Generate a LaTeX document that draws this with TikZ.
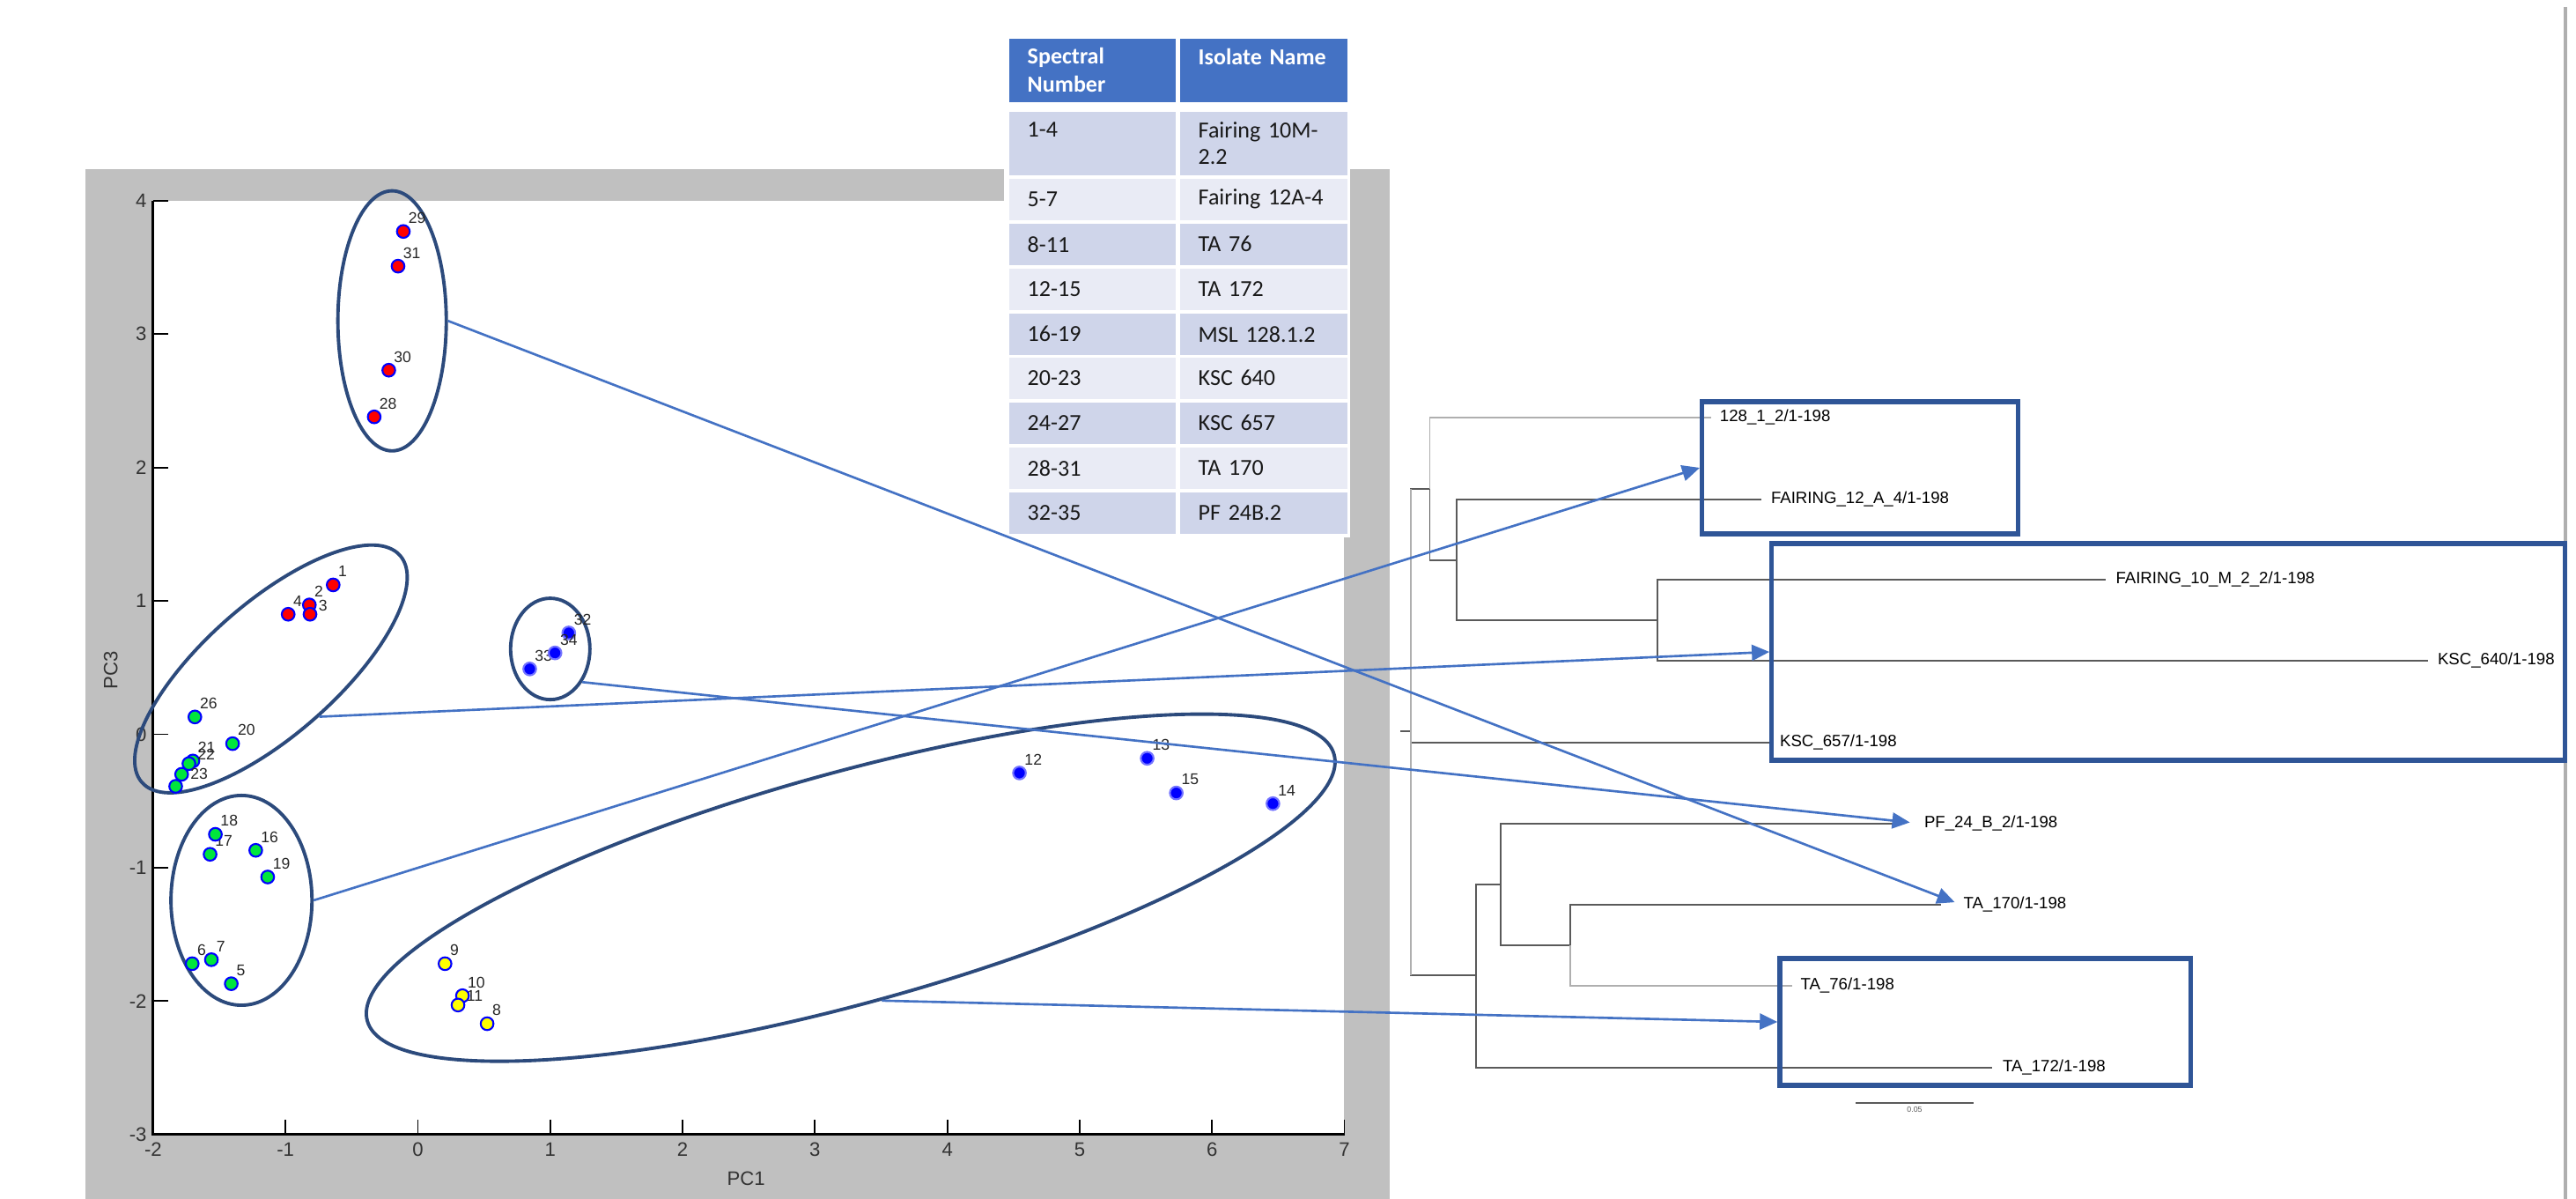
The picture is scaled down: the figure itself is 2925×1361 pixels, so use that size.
\documentclass[tikz,border=0pt]{standalone}
\usepackage{fontspec}
\setmainfont{Liberation Sans}
\newfontfamily\tabfont{Carlito}
\usetikzlibrary{positioning,shapes.geometric,arrows.meta}
\definecolor{framegray}{RGB}{192,192,192}
\definecolor{hdblue}{RGB}{68,114,196}
\definecolor{rowdark}{RGB}{207,213,234}
\definecolor{rowlight}{RGB}{233,235,245}
\definecolor{celltext}{RGB}{25,25,25}
\definecolor{grpblue}{RGB}{44,74,124}
\definecolor{boxblue}{RGB}{47,85,151}
\definecolor{connblue}{RGB}{68,114,196}
\definecolor{treedark}{RGB}{90,90,90}
\definecolor{treelight}{RGB}{175,175,175}
\definecolor{ptred}{RGB}{255,0,0}
\definecolor{ptgreen}{RGB}{0,230,60}
\definecolor{ptyellow}{RGB}{255,255,0}
\definecolor{ptblue}{RGB}{0,0,255}

\begin{document}
\begin{tikzpicture}[x=0.01cm, y=-0.01cm,
    ticklab/.style={font=\fontsize{6.3}{7}\selectfont, inner sep=0pt, text=black!80},
    grp/.style={ellipse, draw=grpblue, line width=1.1pt, inner sep=0pt},
    pt/.style={circle, draw=blue, line width=0.6pt, inner sep=0pt, minimum size=0.145cm},
    ptlab/.style={font=\fontsize{5}{5}\selectfont, inner sep=0.3pt, text=black!85},
    hdcell/.style={anchor=north west, fill=hdblue, text=white, font=\tabfont\bfseries\fontsize{7.4}{9}\selectfont, align=left, inner xsep=0.21cm, inner ysep=0pt, minimum height=0.72cm},
    rowcell/.style={anchor=north west, text=celltext, font=\tabfont\fontsize{7.4}{8.6}\selectfont, align=left, inner xsep=0.21cm, inner ysep=0pt, minimum height=0.47cm},
    leaf/.style={font=\fontsize{5.3}{6}\selectfont, inner sep=0.5pt},
    tree/.style={draw=treedark, line width=0.55pt},
    treelt/.style={draw=treelight, line width=0.55pt},
    grpbox/.style={draw=boxblue, line width=1.5pt, inner sep=0pt},
    conn/.style={draw=connblue, line width=0.75pt, -{Triangle[length=0.2cm, width=0.18cm]}}]
    \useasboundingbox (0,0) rectangle (2925,1361);
    \fill[white] (0,0) rectangle (2925,1361);

    % plot frame
    \fill[framegray] (97,192) rectangle (1578,1361);
    \fill[white] (174,228) rectangle (1526,1287);

    % isolate table
    \fill[white] (1140,38) rectangle (1533,610);
    \node[hdcell, text width=1.47cm] (hnum) at (1145,43) {Spectral\\Number};
    \node[hdcell, text width=1.48cm] (hname) at (1339,43) {Isolate Name\\~};
    \node[rowcell, fill=rowdark, text width=1.47cm, minimum height=0.72cm] (num1) at (1145,126) {1-4\\~};
    \node[rowcell, fill=rowdark, text width=1.48cm, minimum height=0.72cm] (iso1) at (1339,126) {Fairing 10M-\\2.2};
    \node[rowcell, fill=rowlight, text width=1.47cm] (num2) at (1145,202) {5-7};
    \node[rowcell, fill=rowlight, text width=1.48cm] (iso2) at (1339,202) {Fairing 12A-4};
    \node[rowcell, fill=rowdark, text width=1.47cm] (num3) at (1145,253) {8-11};
    \node[rowcell, fill=rowdark, text width=1.48cm] (iso3) at (1339,253) {TA 76};
    \node[rowcell, fill=rowlight, text width=1.47cm] (num4) at (1145,304) {12-15};
    \node[rowcell, fill=rowlight, text width=1.48cm] (iso4) at (1339,304) {TA 172};
    \node[rowcell, fill=rowdark, text width=1.47cm] (num5) at (1145,355) {16-19};
    \node[rowcell, fill=rowdark, text width=1.48cm] (iso5) at (1339,355) {MSL 128.1.2};
    \node[rowcell, fill=rowlight, text width=1.47cm] (num6) at (1145,405) {20-23};
    \node[rowcell, fill=rowlight, text width=1.48cm] (iso6) at (1339,405) {KSC 640};
    \node[rowcell, fill=rowdark, text width=1.47cm] (num7) at (1145,456) {24-27};
    \node[rowcell, fill=rowdark, text width=1.48cm] (iso7) at (1339,456) {KSC 657};
    \node[rowcell, fill=rowlight, text width=1.47cm] (num8) at (1145,507) {28-31};
    \node[rowcell, fill=rowlight, text width=1.48cm] (iso8) at (1339,507) {TA 170};
    \node[rowcell, fill=rowdark, text width=1.47cm] (num9) at (1145,558) {32-35};
    \node[rowcell, fill=rowdark, text width=1.48cm] (iso9) at (1339,558) {PF 24B.2};

    % PCA scores, in PC1/PC3 units
    \begin{scope}[shift={(474.5,833.5)}, x=1.502cm, y=1.513cm]
        \draw[line width=0.85pt] (-2,4) -- (-2,-3) -- (7,-3);
        \foreach \t in {-3,...,4} {
            \draw[line width=0.5pt] (-2,\t) -- (-1.887,\t);
            \node[ticklab, anchor=east] at (-2.045,\t) {\t};
        }
        \foreach \t in {-2,...,7} {
            \draw[line width=0.5pt] (\t,-3) -- (\t,-2.887);
            \node[ticklab, anchor=north] at (\t,-3.06) {\t};
        }
        \node[ticklab, rotate=90] (pc3) at (-2.32,0.48) {PC3};
        \node[ticklab] (pc1) at (2.48,-3.33) {PC1};

        \node[grp, minimum width=1.23cm, minimum height=2.95cm] (grpA) at (-0.195,3.10) {};
        \node[grp, minimum width=3.90cm, minimum height=1.50cm, rotate=41.3] (grpB) at (-1.11,0.49) {};
        \node[grp, minimum width=1.60cm, minimum height=2.38cm] (grpC) at (-1.333,-1.245) {};
        \node[grp, minimum width=0.90cm, minimum height=1.15cm] (grpD) at (1.0,0.64) {};
        \node[grp, minimum width=11.38cm, minimum height=2.62cm, rotate=15.4] (grpE) at (3.27,-1.15) {};

        \node[pt, fill=ptred, label={[ptlab]60:1}] (p1) at (-0.64,1.12) {};
        \node[pt, fill=ptred, label={[ptlab]60:2}] (p2) at (-0.82,0.97) {};
        \node[pt, fill=ptred, label={[ptlab]15:3}] (p3) at (-0.815,0.90) {};
        \node[pt, fill=ptred, label={[ptlab]60:4}] (p4) at (-0.98,0.90) {};
        \node[pt, fill=ptgreen, label={[ptlab]60:5}] (p5) at (-1.41,-1.87) {};
        \node[pt, fill=ptgreen, label={[ptlab]60:6}] (p6) at (-1.705,-1.72) {};
        \node[pt, fill=ptgreen, label={[ptlab]60:7}] (p7) at (-1.56,-1.69) {};
        \node[pt, fill=ptyellow, label={[ptlab]60:8}] (p8) at (0.523,-2.17) {};
        \node[pt, fill=ptyellow, label={[ptlab]60:9}] (p9) at (0.205,-1.72) {};
        \node[pt, fill=ptyellow, label={[ptlab]60:10}] (p10) at (0.337,-1.96) {};
        \node[pt, fill=ptyellow, label={[ptlab]15:11}] (p11) at (0.303,-2.03) {};
        \node[pt, fill=ptblue, draw=blue!55, label={[ptlab]60:12}] (p12) at (4.545,-0.29) {};
        \node[pt, fill=ptblue, draw=blue!55, label={[ptlab]60:13}] (p13) at (5.51,-0.18) {};
        \node[pt, fill=ptblue, draw=blue!55, label={[ptlab]60:14}] (p14) at (6.46,-0.52) {};
        \node[pt, fill=ptblue, draw=blue!55, label={[ptlab]60:15}] (p15) at (5.73,-0.44) {};
        \node[pt, fill=ptgreen, label={[ptlab]60:16}] (p16) at (-1.225,-0.87) {};
        \node[pt, fill=ptgreen, label={[ptlab]60:17}] (p17) at (-1.57,-0.90) {};
        \node[pt, fill=ptgreen, label={[ptlab]60:18}] (p18) at (-1.53,-0.75) {};
        \node[pt, fill=ptgreen, label={[ptlab]60:19}] (p19) at (-1.135,-1.07) {};
        \node[pt, fill=ptgreen, label={[ptlab]60:20}] (p20) at (-1.40,-0.07) {};
        \node[pt, fill=ptgreen, label={[ptlab]60:21}] (p21) at (-1.70,-0.20) {};
        \node[pt, fill=ptgreen, label={[ptlab]15:22}] (p22) at (-1.73,-0.22) {};
        \node[pt, fill=ptgreen, label={[ptlab]0:23}] (p23) at (-1.785,-0.30) {};
        \node[pt, fill=ptgreen] (p24) at (-1.83,-0.39) {};
        \node[pt, fill=ptgreen, label={[ptlab]60:26}] (p26) at (-1.685,0.13) {};
        \node[pt, fill=ptred, label={[ptlab]60:28}] (p28) at (-0.33,2.38) {};
        \node[pt, fill=ptred, label={[ptlab]60:29}] (p29) at (-0.11,3.77) {};
        \node[pt, fill=ptred, label={[ptlab]60:30}] (p30) at (-0.22,2.73) {};
        \node[pt, fill=ptred, label={[ptlab]60:31}] (p31) at (-0.15,3.51) {};
        \node[pt, fill=ptblue, draw=blue!55, label={[ptlab]60:32}] (p32) at (1.14,0.76) {};
        \node[pt, fill=ptblue, draw=blue!55, label={[ptlab]60:33}] (p33) at (0.845,0.49) {};
        \node[pt, fill=ptblue, draw=blue!55, label={[ptlab]60:34}] (p34) at (1.036,0.61) {};
    \end{scope}

    % dendrogram
    \coordinate (stub) at (1590,830);
    \coordinate (root) at (1602,830);
    \coordinate (n1) at (1623.5,555);
    \coordinate (n2) at (1654,636);
    \coordinate (n3) at (1882,704);
    \coordinate (n4) at (1676,1107);
    \coordinate (n5) at (1704,1004);
    \coordinate (n6) at (1783,1073);
    \coordinate (t128) at (1943,474);
    \coordinate (tF12) at (2000,566.7);
    \coordinate (tF10) at (2391,658);
    \coordinate (tK640) at (2757,750);
    \coordinate (tK657) at (2012.6,843);
    \coordinate (tPF24) at (2159.5,935);
    \coordinate (tTA170) at (2204,1027);
    \coordinate (tTA76) at (2035,1119);
    \coordinate (tTA172) at (2261.5,1212);

    \node[leaf, right=0.075cm of t128] (l128) {128\_1\_2/1-198};
    \node[leaf, right=0.085cm of tF12] (lF12) {FAIRING\_12\_A\_4/1-198};
    \node[leaf, right=0.09cm of tF10] (lF10) {FAIRING\_10\_M\_2\_2/1-198};
    \node[leaf, right=0.085cm of tK640] (lK640) {KSC\_640/1-198};
    \node[leaf, right=0.06cm of tK657] (lK657) {KSC\_657/1-198};
    \node[leaf, right=0.23cm of tPF24] (lPF24) {PF\_24\_B\_2/1-198};
    \node[leaf, right=0.23cm of tTA170] (lTA170) {TA\_170/1-198};
    \node[leaf, right=0.07cm of tTA76] (lTA76) {TA\_76/1-198};
    \node[leaf, right=0.10cm of tTA172] (lTA172) {TA\_172/1-198};

    \draw[tree] (stub) -- (root);
    \draw[tree] (root) |- (n1);
    \draw[tree] (root) |- (tK657);
    \draw[tree] (root) |- (n4);
    \draw[treelt] (n1 -| root) -- (n4 -| root);
    \draw[treelt] (n1) |- (t128);
    \draw[tree] (n1) |- (n2);
    \draw[tree] (n2) |- (tF12);
    \draw[tree] (n2) |- (n3);
    \draw[tree] (n3) |- (tF10);
    \draw[tree] (n3) |- (tK640);
    \draw[tree] (n4) |- (n5);
    \draw[tree] (n4) |- (tTA172);
    \draw[tree] (n5) |- (tPF24);
    \draw[tree] (n5) |- (n6);
    \draw[tree] (n6) |- (tTA170);
    \draw[treelt] (n6) |- (tTA76);

    \coordinate (sbL) at (2107,1252);
    \coordinate (sbR) at (2241,1252);
    \draw[treedark, line width=0.6pt] (sbL) -- (sbR) node[midway, below=0.03cm, inner sep=0pt, font=\fontsize{2.5}{3}\selectfont] (sblab) {0.05};

    \draw[treelight, line width=1pt] (2913,8) -- (2913,1361);

    % clade boxes
    \node[grpbox, minimum width=3.585cm, minimum height=1.50cm] (box128) at (2112,531) {};
    \node[grpbox, minimum width=9.0cm, minimum height=2.46cm] (box640) at (2462,740) {};
    \node[grpbox, minimum width=4.66cm, minimum height=1.44cm] (boxTA) at (2254,1160) {};

    % cluster -> clade
    \draw[conn, shorten >=0.08cm] (grpA.east) -- (lTA170.west);
    \draw[conn] (grpB.-86) -- (box640.west);
    \draw[conn] (grpC.east) -- (box128.west);
    \draw[conn, shorten >=0.14cm] (grpD.-46) -- (lPF24.west);
    \draw[conn] (grpE.south) -- (boxTA.west);
\end{tikzpicture}
\end{document}
